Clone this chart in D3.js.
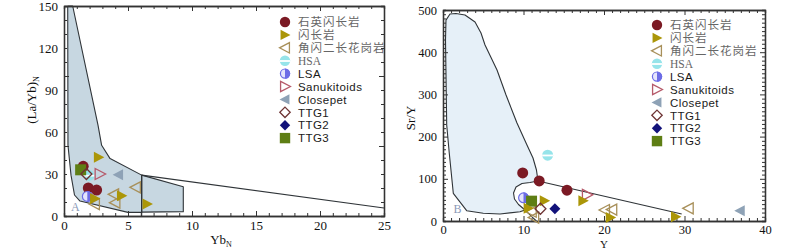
<!DOCTYPE html>
<html><head><meta charset="utf-8">
<script src="https://cdn.jsdelivr.net/npm/d3@7"></script>
<style>body{margin:0;background:#fff}</style>
</head><body><svg id="c" width="800" height="250"></svg>
<script>
// ---------- legend / series ----------
const seriesNames = ["石英闪长岩","闪长岩","角闪二长花岗岩","HSA","LSA","Sanukitoids","Closepet","TTG1","TTG2","TTG3"];
const seriesTypes = ["circle","triRightFill","triLeftOpen","hsa","lsa","triRightOpen","triLeftFill","diamondOpen","diamondFill","square"];
const seriesColors = ["#7b1a24","#ab9608","#a8905a","#96e4ea","#6c6ce6","#b65a6a","#8ea2b6","#6e3434","#12127a","#5e7e14"];
const legendFont = ["cjk","cjk","cjk","serif","sans","sans","sans","sans","sans","sans"];
// draw order (index into series)
const drawOrder = [0,3,4,2,5,6,9,1,7,8];

// ---------- panel A : (La/Yb)N vs YbN ----------
const aQtzDiorite = [[1.5,35.5],[1.9,20],[2.55,18.5]];
const aDiorite    = [[2.7,42],[2.4,12.5],[4.5,14.5],[6.5,8.5]];
const aHblGranite = [[5.6,20.5],[3.9,15.5],[4.0,9.5],[2.4,8.5]];
const aHSA        = [[1.95,29]];
const aLSA        = [[1.82,14]];
const aSanuk      = [[2.8,30]];
const aClosepet   = [[4.25,29.5]];
const aTTG1       = [[1.75,30]];
const aTTG2       = [];
const aTTG3       = [[1.3,33]];
const aSeries = [aQtzDiorite,aDiorite,aHblGranite,aHSA,aLSA,aSanuk,aClosepet,aTTG1,aTTG2,aTTG3];

const aFieldMain = [[0.29,150],[0.68,150],[2.66,64.8],[2.94,50.5],[3.6,41],[6.07,29.2],[6.07,2.6],[5.0,2.6],[1.25,10.7],[0.82,15],[0.55,29],[0.31,50.5]];
const aFieldQuad = [[6.07,29.2],[9.32,20.9],[9.32,3.1],[6.07,2.8]];
const aVertLine  = [[6.07,29.2],[6.07,0]];
const aLongLine  = [[6.07,29.2],[25,5.7]];
const aXTicks = [0,5,10,15,20,25];
const aYTicks = [0,30,60,90,120,150];

// ---------- panel B : Sr/Y vs Y ----------
const bQtzDiorite = [[9.9,114],[11.95,95],[15.4,73]];
const bDiorite    = [[12.6,48],[17.4,48],[10.6,30],[20.8,8],[28.9,10]];
const bHblGranite = [[30.5,30],[20.1,26],[21.0,27],[11.0,22],[11.3,8]];
const bHSA        = [[13.0,156]];
const bLSA        = [[10.0,55]];
const bSanuk      = [[17.9,62]];
const bClosepet   = [[36.9,24]];
const bTTG1       = [[12.1,29]];
const bTTG2       = [[13.9,29]];
const bTTG3       = [[11.0,47]];
const bSeries = [bQtzDiorite,bDiorite,bHblGranite,bHSA,bLSA,bSanuk,bClosepet,bTTG1,bTTG2,bTTG3];

const bField = [[0.37,476],[0.87,490.5],[1.61,491.7],[2.73,488],[3.98,471.6],[4.72,445.5],[5.22,417],[6.71,357.8],[7.83,298.6],[9.19,232.2],[10.43,180],[11.18,149.3],[11.61,120.9],[11.8,94.8],
  [10.8,91.2],[9.81,88.9],[9.07,80.6],[8.76,66.4],[8.88,52.1],[9.38,39.1],[10.19,26.1],
  [9.57,22],[7.08,16.6],[5.0,18.2],[2.94,24.4],[1.28,65.6],[0.78,160.4],[0.46,227.5],[0.31,429]];
const bLoopTail = [[10.19,26.1],[11.02,10.2],[11.6,0]];
const bLongLine = [[11.8,94.8],[29.65,16.6]];
const bXTicks = [0,10,20,30,40];
const bYTicks = [0,100,200,300,400,500];

// ---------- drawing ----------
const svg = d3.select("#c");
const SERIF = "'Liberation Serif','Times New Roman',serif";
const SANS = "'Liberation Sans',Arial,sans-serif";
const CJK = "'Liberation Serif','Noto Sans CJK SC',serif";

function marker(g, type, color, x, y, r) {
  const p = d3.path();
  switch (type) {
    case "circle":
      g.append("circle").attr("cx",x).attr("cy",y).attr("r",r).attr("fill",color); break;
    case "triRightFill":
    case "triRightOpen":
      p.moveTo(x-r*0.85,y-r); p.lineTo(x+r*1.05,y); p.lineTo(x-r*0.85,y+r); p.closePath();
      if (type==="triRightFill") g.append("path").attr("d",p).attr("fill",color);
      else g.append("path").attr("d",p).attr("fill","none").attr("stroke",color).attr("stroke-width",1.3);
      break;
    case "triLeftFill":
    case "triLeftOpen":
      p.moveTo(x+r*0.85,y-r); p.lineTo(x-r*1.05,y); p.lineTo(x+r*0.85,y+r); p.closePath();
      if (type==="triLeftFill") g.append("path").attr("d",p).attr("fill",color);
      else g.append("path").attr("d",p).attr("fill","none").attr("stroke",color).attr("stroke-width",1.3);
      break;
    case "diamondOpen":
    case "diamondFill":
      p.moveTo(x,y-r); p.lineTo(x+r,y); p.lineTo(x,y+r); p.lineTo(x-r,y); p.closePath();
      if (type==="diamondFill") g.append("path").attr("d",p).attr("fill",color);
      else g.append("path").attr("d",p).attr("fill","none").attr("stroke",color).attr("stroke-width",1.3);
      break;
    case "square":
      g.append("rect").attr("x",x-r).attr("y",y-r).attr("width",2*r).attr("height",2*r).attr("fill",color); break;
    case "hsa":
      g.append("circle").attr("cx",x).attr("cy",y).attr("r",r).attr("fill",color);
      g.append("rect").attr("x",x-r).attr("y",y-0.6).attr("width",2*r).attr("height",1.8).attr("fill","#fff");
      break;
    case "lsa": {
      g.append("circle").attr("cx",x).attr("cy",y).attr("r",r-0.6).attr("fill","#e4e4fc").attr("stroke",color).attr("stroke-width",1.2);
      const h = d3.path(); h.moveTo(x,y-r); h.arc(x,y,r,-Math.PI/2,Math.PI/2); h.closePath();
      g.append("path").attr("d",h).attr("fill",color);
      break;
    }
  }
}

function drawPanel(cfg) {
  const {x, y, xMajor, xMinorStep, yMajorLabels, yMinorStep, yLongStep, xLongStep} = cfg;
  const g = svg.append("g");
  const [x0,x1] = x.range(); const [y0,y1] = y.range();
  const line = d3.line().x(d=>x(d[0])).y(d=>y(d[1]));

  // fields
  cfg.fills.forEach(f => g.append("path").attr("d", line(f.pts)+"Z").attr("fill",f.color).attr("stroke","#2f3438").attr("stroke-width",1.1).attr("stroke-linejoin","round"));
  cfg.lines.forEach(l => g.append("path").attr("d", line(l)).attr("fill","none").attr("stroke","#2f3438").attr("stroke-width",1.1));
  g.append("text").attr("x",x(cfg.fieldLabel.at[0])).attr("y",y(cfg.fieldLabel.at[1])).text(cfg.fieldLabel.text)
    .attr("font-family",SERIF).attr("font-size",12).attr("fill","#8a9ab8");

  // axes
  const [dx0,dx1] = x.domain(); const [dy0,dy1] = y.domain();
  const xMinor = d3.range(dx0, dx1+1e-9, xMinorStep);
  const yMinor = d3.range(dy0, dy1+1e-9, yMinorStep);
  const isLongX = v => Math.abs(v/xLongStep - Math.round(v/xLongStep)) < 1e-6;
  const isLongY = v => Math.abs(v/yLongStep - Math.round(v/yLongStep)) < 1e-6;
  const style = sel => { sel.selectAll("path.domain").attr("stroke","#333").attr("stroke-width",1.3);
    sel.selectAll("line").attr("stroke","#333").attr("stroke-width",1);
    sel.selectAll("text").attr("font-family",SERIF).attr("font-size",cfg.tickFont).attr("fill","#111"); };

  // bottom: minor + long
  g.append("g").attr("transform",`translate(0,${y0})`).call(d3.axisBottom(x).tickValues(xMinor.filter(v=>!isLongX(v))).tickSize(-3).tickFormat("")).call(style);
  g.append("g").attr("transform",`translate(0,${y0})`).call(d3.axisBottom(x).tickValues(xMinor.filter(isLongX)).tickSizeInner(-5).tickSizeOuter(0).tickFormat("")).call(style);
  g.append("g").attr("transform",`translate(0,${y0})`).call(d3.axisBottom(x).tickValues(xMajor).tickSize(0).tickPadding(cfg.xPad).tickFormat(d3.format("d"))).call(style).select("path.domain").remove();
  // top
  g.append("g").attr("transform",`translate(0,${y1})`).call(d3.axisTop(x).tickValues(xMinor.filter(v=>!isLongX(v))).tickSize(-3).tickFormat("")).call(style);
  g.append("g").attr("transform",`translate(0,${y1})`).call(d3.axisTop(x).tickValues(xMinor.filter(isLongX)).tickSizeInner(-5).tickSizeOuter(0).tickFormat("")).call(style);
  // left
  g.append("g").attr("transform",`translate(${x0},0)`).call(d3.axisLeft(y).tickValues(yMinor.filter(v=>!isLongY(v))).tickSize(-3).tickFormat("")).call(style);
  g.append("g").attr("transform",`translate(${x0},0)`).call(d3.axisLeft(y).tickValues(yMinor.filter(isLongY)).tickSizeInner(-5).tickSizeOuter(0).tickFormat("")).call(style);
  g.append("g").attr("transform",`translate(${x0},0)`).call(d3.axisLeft(y).tickValues(yMajorLabels).tickSize(0).tickPadding(6).tickFormat(d3.format("d"))).call(style).select("path.domain").remove();
  // right
  g.append("g").attr("transform",`translate(${x1},0)`).call(d3.axisRight(y).tickValues(yMinor.filter(v=>!isLongY(v))).tickSize(-3).tickFormat("")).call(style);
  g.append("g").attr("transform",`translate(${x1},0)`).call(d3.axisRight(y).tickValues(yMinor.filter(isLongY)).tickSizeInner(-5).tickSizeOuter(0).tickFormat("")).call(style);

  // axis titles
  const xt = g.append("text").attr("x",cfg.xTitle.x).attr("y",cfg.xTitle.y).attr("text-anchor","middle")
    .attr("font-family",SERIF).attr("font-size",cfg.xTitle.size).attr("fill","#111");
  xt.append("tspan").text(cfg.xTitle.main);
  if (cfg.xTitle.sub) xt.append("tspan").attr("font-size",8).attr("dy",3).text(cfg.xTitle.sub);
  const yt = g.append("text").attr("transform",`translate(${cfg.yTitle.x},${cfg.yTitle.y}) rotate(-90)`).attr("text-anchor","middle")
    .attr("font-family",SERIF).attr("font-size",13).attr("fill","#111");
  yt.append("tspan").text(cfg.yTitle.main);
  if (cfg.yTitle.sub) yt.append("tspan").attr("font-size",8).attr("dy",3).text(cfg.yTitle.sub);

  // points
  drawOrder.forEach(i => cfg.series[i].forEach(d => marker(g, seriesTypes[i], seriesColors[i], x(d[0]), y(d[1]), 5.5)));

  // legend
  const lg = g.append("g");
  seriesNames.forEach((name,i) => {
    const ly = cfg.legend.y0 + i*cfg.legend.step;
    marker(lg, seriesTypes[i], seriesColors[i], cfg.legend.x, ly, 5.2);
    const f = legendFont[i];
    lg.append("text").attr("x",cfg.legend.x+13).attr("y",ly+4.2).text(name)
      .attr("font-family", f==="cjk"?CJK:(f==="serif"?SERIF:SANS))
      .attr("font-size", 11.5)
      .attr("letter-spacing", f==="cjk"?1:(f==="sans"?0.45:0))
      .attr("fill", f==="sans"?"#1a1a1a":"#666");
  });
}

drawPanel({
  x: d3.scaleLinear([0,25],[64,384]), y: d3.scaleLinear([0,150],[216,6]),
  xMajor: aXTicks, xMinorStep: 1, xLongStep: 5, yMajorLabels: aYTicks, yMinorStep: 10, yLongStep: 50, xPad: 5, tickFont: 13,
  fills: [{pts:aFieldMain,color:"#c7d7e1"},{pts:aFieldQuad,color:"#c7d7e1"}],
  lines: [aVertLine, aLongLine],
  fieldLabel: {text:"A", at:[0.55,3.5]},
  series: aSeries,
  legend: {x:285, y0:22, step:12.9},
  xTitle: {x:221, y:244, main:"Yb", sub:"N", size:13},
  yTitle: {x:36, y:100, main:"(La/Yb)", sub:"N"}
});
drawPanel({
  x: d3.scaleLinear([0,40],[443,765]), y: d3.scaleLinear([0,500],[221,10]),
  xMajor: bXTicks, xMinorStep: 1, xLongStep: 10, yMajorLabels: bYTicks, yMinorStep: 10, yLongStep: 100, xPad: 4, tickFont: 12.5,
  fills: [{pts:bField,color:"#e6f0f8"}],
  lines: [bLoopTail, bLongLine],
  fieldLabel: {text:"B", at:[1.3,20]},
  series: bSeries,
  legend: {x:657, y0:25, step:12.9},
  xTitle: {x:604, y:247.5, main:"Y", size:11},
  yTitle: {x:415, y:118, main:"Sr/Y"}
});
</script></body></html>
